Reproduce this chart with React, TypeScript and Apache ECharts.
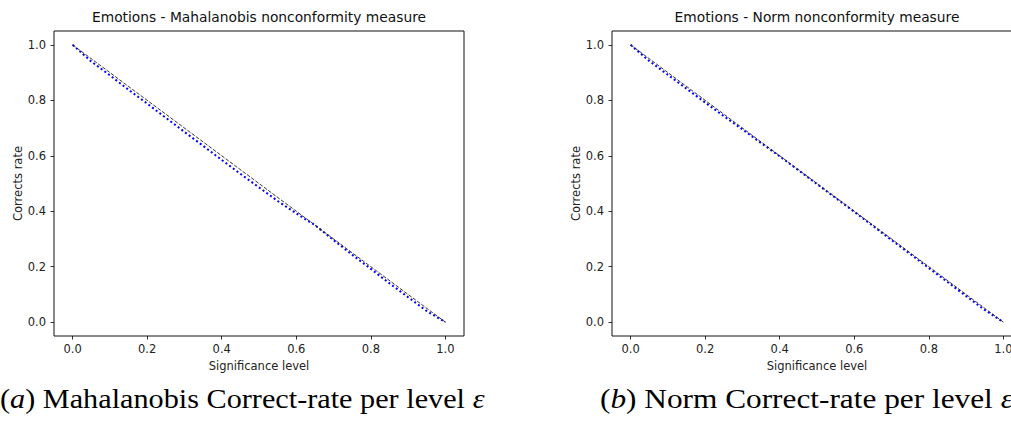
import React, { useEffect, useRef } from "react";
import * as echarts from "echarts";

const significance = [0, 0.05, 0.1, 0.15, 0.2, 0.25, 0.3, 0.35, 0.4, 0.45, 0.5, 0.55, 0.6, 0.65, 0.7, 0.75, 0.8, 0.85, 0.9, 0.95, 1.0];
const mahalanobisRate = [1.0, 0.94, 0.89, 0.838, 0.788, 0.737, 0.686, 0.636, 0.585, 0.535, 0.486, 0.437, 0.392, 0.35, 0.296, 0.243, 0.192, 0.14, 0.09, 0.04, 0.0];
const normRate = [1.0, 0.942, 0.892, 0.842, 0.792, 0.743, 0.695, 0.646, 0.598, 0.548, 0.498, 0.448, 0.398, 0.347, 0.296, 0.246, 0.195, 0.145, 0.094, 0.044, 0.0];
const diagonalX = [0, 1];
const diagonalY = [1, 0];
const tickValues = [0, 0.2, 0.4, 0.6, 0.8, 1.0];
const titles = ["Emotions - Mahalanobis nonconformity measure", "Emotions - Norm nonconformity measure"];
const xAxisName = "Significance level";
const yAxisName = "Corrects rate";

const FONT = "DejaVu Sans";

export default function App() {
  const ref = useRef<HTMLDivElement>(null);
  useEffect(() => {
    if (!ref.current) return;
    const chart = echarts.init(ref.current, null, { renderer: "svg" });
    const grids = [
      { left: 54, top: 31, width: 410, height: 305 },
      { left: 612, top: 31, width: 410, height: 305 },
    ];
    const axisCommon = {
      min: -0.05,
      max: 1.05,
      splitLine: { show: false },
      axisLine: { show: false, onZero: false },
      axisTick: { show: true, length: 3.5, customValues: tickValues, lineStyle: { color: "#000", width: 0.8 } },
      axisLabel: {
        customValues: tickValues,
        formatter: (v: number) => v.toFixed(1),
        fontFamily: FONT,
        fontSize: 11.5,
        color: "#222",
      },
      nameTextStyle: { fontFamily: FONT, fontSize: 11.5, color: "#222" },
    };
    const rates = [mahalanobisRate, normRate];
    const series: any[] = [];
    rates.forEach((r, i) => {
      series.push({
        type: "line",
        xAxisIndex: i,
        yAxisIndex: i,
        data: significance.map((s, k) => [s, r[k]]),
        symbol: "none",
        lineStyle: { color: "#0000ff", width: 2, type: [2, 2.6], cap: "butt" },
        z: 2,
      });
      series.push({
        type: "line",
        xAxisIndex: i,
        yAxisIndex: i,
        data: diagonalX.map((x, k) => [x, diagonalY[k]]),
        symbol: "none",
        lineStyle: { color: "#222", width: 0.9, type: [3.7, 1.6] },
        z: 3,
      });
    });
    const capRich = {
      p: { fontFamily: "Liberation Serif", fontSize: 27, fill: "#000" },
      i: { fontFamily: "Liberation Serif", fontSize: 27, fontStyle: "italic", fill: "#000" },
    };
    chart.setOption({
      animation: false,
      backgroundColor: "#fff",
      title: titles.map((t, i) => ({
        text: t,
        left: grids[i].left + grids[i].width / 2,
        textAlign: "center",
        top: 10,
        padding: 0,
        textStyle: { fontFamily: FONT, fontSize: 13.8, fontWeight: "normal", color: "#111" },
      })),
      grid: grids.map((g) => ({ ...g, show: true, borderColor: "#111", borderWidth: 1, backgroundColor: "transparent" })),
      xAxis: grids.map((_, i) => ({
        ...axisCommon,
        type: "value",
        gridIndex: i,
        name: xAxisName,
        nameLocation: "middle",
        nameGap: 22,
        axisLabel: { ...axisCommon.axisLabel, margin: 7 },
      })),
      yAxis: grids.map((_, i) => ({
        ...axisCommon,
        type: "value",
        gridIndex: i,
        name: yAxisName,
        nameLocation: "middle",
        nameGap: 30,
        axisLabel: { ...axisCommon.axisLabel, margin: 8 },
      })),
      series,
      graphic: [
        {
          type: "text",
          x: 0,
          y: 399,
          scaleX: 1.12,
          style: {
            text: "{p|(}{i|a}{p|) Mahalanobis Correct-rate per level }{i|ε}",
            verticalAlign: "middle",
            align: "left",
            rich: capRich,
          },
        },
        {
          type: "text",
          x: 600,
          y: 399,
          scaleX: 1.16,
          style: {
            text: "{p|(}{i|b}{p|) Norm Correct-rate per level }{i|ε}",
            verticalAlign: "middle",
            align: "left",
            rich: capRich,
          },
        },
      ],
    });
    return () => chart.dispose();
  }, []);
  return (
    <div style={{ position: "absolute", left: 0, top: 0, width: 1011, height: 421, overflow: "hidden", background: "#fff" }}>
      <div ref={ref} style={{ width: 1040, height: 421 }} />
    </div>
  );
}
